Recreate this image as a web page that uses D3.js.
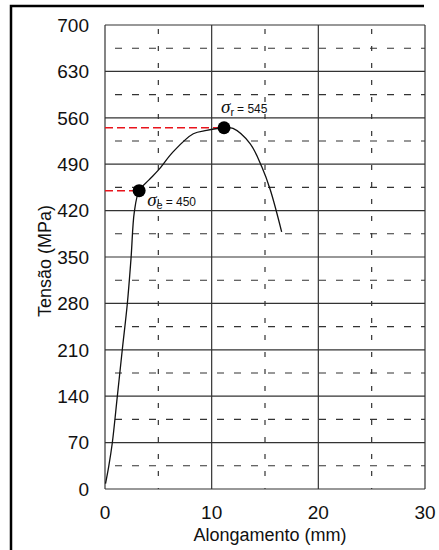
<!DOCTYPE html>
<html>
<head>
<meta charset="utf-8">
<script src="https://cdn.jsdelivr.net/npm/d3@7"></script>
<style>
  body { margin: 0; background: #fff; }
  svg { display: block; font-family: "Liberation Sans", Arial, sans-serif; }
</style>
</head>
<body>
<div id="chart"></div>
<script>
// curve (mm, MPa)
const elong = [0.05, 0.35, 0.68, 1.15, 1.62, 2.09, 2.44, 2.75, 3.2, 4.1, 5.0, 6.4, 8.28, 9.53, 11.16, 12.0, 13.6, 14.7, 15.5, 16.56];
const stress = [8, 34, 69, 139, 210, 279, 348, 418, 450, 466, 481, 509, 536, 541, 545, 544, 521, 486, 451, 388];

// marked points
const marks = [
  { x: 3.2, y: 450, sym: "e", label: "= 450", dx: 8, dy: 15 },
  { x: 11.16, y: 545, sym: "r", label: "= 545", dx: -3, dy: -15 }
];

const yTicks = [0, 70, 140, 210, 280, 350, 420, 490, 560, 630, 700];
const yHalf = [35, 105, 175, 245, 315, 385, 455, 525, 595, 665];
const xTicks = [0, 10, 20, 30];
const xHalf = [5, 15, 25];

const W = 439, H = 550;
const margin = { top: 25, right: 14, bottom: 61, left: 105 },
    width = W - margin.left - margin.right,
    height = H - margin.top - margin.bottom;

const x = d3.scaleLinear().domain([0, 30]).range([0, width]);
const y = d3.scaleLinear().domain([0, 700]).range([height, 0]);

const svg = d3.select("#chart").append("svg")
    .attr("width", W)
    .attr("height", H);

// outer frame (left and top only)
svg.append("path")
    .attr("d", "M11,550 V6 H424")
    .attr("fill", "none")
    .attr("stroke", "#000")
    .attr("stroke-width", 2.5);

const g = svg.append("g")
    .attr("transform", "translate(" + margin.left + "," + margin.top + ")");

const gridColor = "#333";

// dashed half grid
g.selectAll(".hhalf").data(yHalf).enter().append("line")
    .attr("x1", 0).attr("x2", width)
    .attr("y1", d => y(d)).attr("y2", d => y(d))
    .attr("stroke", gridColor).attr("stroke-width", 1.1)
    .attr("stroke-dasharray", "7,10")
    .attr("stroke-dashoffset", -10);

g.selectAll(".vhalf").data(xHalf).enter().append("line")
    .attr("y1", 0).attr("y2", height)
    .attr("x1", d => x(d)).attr("x2", d => x(d))
    .attr("stroke", gridColor).attr("stroke-width", 1.2)
    .attr("stroke-dasharray", "5,12")
    .attr("stroke-dashoffset", -4);

// solid grid
g.selectAll(".hgrid").data(yTicks).enter().append("line")
    .attr("x1", 0).attr("x2", width)
    .attr("y1", d => y(d)).attr("y2", d => y(d))
    .attr("stroke", gridColor).attr("stroke-width", 1.2);

g.selectAll(".vgrid").data(xTicks).enter().append("line")
    .attr("y1", 0).attr("y2", height)
    .attr("x1", d => x(d)).attr("x2", d => x(d))
    .attr("stroke", gridColor).attr("stroke-width", 1.2);

// tick labels
g.selectAll(".ylab").data(yTicks).enter().append("text")
    .attr("x", -16)
    .attr("y", d => y(d))
    .attr("dy", "0.36em")
    .attr("text-anchor", "end")
    .attr("font-size", 19)
    .attr("fill", "#111")
    .text(d => d);

g.selectAll(".xlab").data(xTicks).enter().append("text")
    .attr("x", d => x(d))
    .attr("y", height + 30)
    .attr("text-anchor", "middle")
    .attr("font-size", 19)
    .attr("fill", "#111")
    .text(d => d);

// axis titles
g.append("text")
    .attr("x", width / 2 + 5)
    .attr("y", height + 52)
    .attr("text-anchor", "middle")
    .attr("font-size", 18)
    .attr("fill", "#111")
    .text("Alongamento (mm)");

g.append("text")
    .attr("transform", "translate(" + (-54) + "," + (height / 2 + 4) + ") rotate(-90)")
    .attr("text-anchor", "middle")
    .attr("font-size", 18)
    .attr("fill", "#111")
    .text("Tensão (MPa)");

// red guides to the marked points
g.selectAll(".guide").data(marks).enter().append("line")
    .attr("x1", 0).attr("x2", d => x(d.x))
    .attr("y1", d => y(d.y)).attr("y2", d => y(d.y))
    .attr("stroke", "#e8141c").attr("stroke-width", 1.6)
    .attr("stroke-dasharray", "8,4");

// stress-strain curve
const pts = elong.map((e, i) => [e, stress[i]]);
const line = d3.line()
    .x(d => x(d[0]))
    .y(d => y(d[1]))
    .curve(d3.curveCatmullRom.alpha(0.5));

g.append("path")
    .datum(pts)
    .attr("d", line)
    .attr("fill", "none")
    .attr("stroke", "#111")
    .attr("stroke-width", 1.3);

// dots
g.selectAll(".dot").data(marks).enter().append("circle")
    .attr("cx", d => x(d.x))
    .attr("cy", d => y(d.y))
    .attr("r", 6.5)
    .attr("fill", "#000");

// sigma labels
const lab = g.selectAll(".mlab").data(marks).enter().append("text")
    .attr("x", d => x(d.x) + d.dx)
    .attr("y", d => y(d.y) + d.dy)
    .attr("fill", "#111");

lab.append("tspan")
    .attr("font-family", "'Liberation Serif', serif")
    .attr("font-style", "italic")
    .attr("font-size", 19)
    .text("σ");
lab.append("tspan")
    .attr("font-size", 11)
    .attr("dy", 3)
    .text(d => d.sym);
lab.append("tspan")
    .attr("font-size", 12)
    .attr("dy", -3)
    .attr("dx", 3)
    .text(d => d.label);
</script>
</body>
</html>
